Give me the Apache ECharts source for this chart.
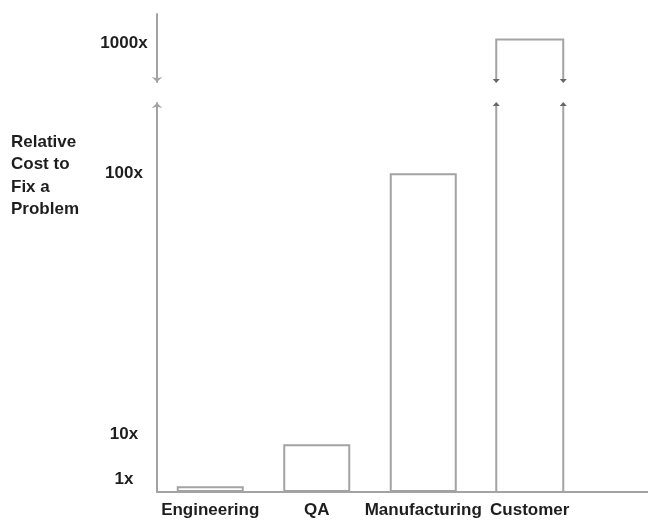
<!DOCTYPE html>
<html lang="en">
<head>
<meta charset="utf-8"/>
<title>Relative Cost to Fix a Problem</title>
<script src="https://cdn.jsdelivr.net/npm/echarts@6.0.0/dist/echarts.min.js"></script>
<style>
    html, body {
        height: 100%;
        margin: 0;
        background: #fff;
    }

    .chart {
        width: 648px;
        height: 522px;
    }
</style>
</head>
<body>
<div class="chart"></div>
<script>
    const categories = ["Engineering", "QA", "Manufacturing", "Customer"];
    // bar heights on the lower part of the axis (the drawing is not to scale)
    const lowerHeights = [1.8, 15, 100, "-"];
    // the Customer bar runs through the axis break up to the 1000x level
    const customerCost = 1000;
    const lowerTickValues = [4, 18, 100];
    const lowerTickLabels = ["1x", "10x", "100x"];
    const upperTickValues = [920];
    const upperTickLabels = ["1000x"];

    const font = "Liberation Sans";
    const textColor = "#1e1e1e";
    const lineColor = "#a3a3a3";
    const markColor = "#666";
    const barWidth = 67;

    function labelFor(values, labels) {
        return function (v) {
            const i = values.indexOf(v);
            return i < 0 ? "" : labels[i];
        };
    }

    function arrow(x, y, dir) {
        // small arrow head, tip at y, dir -1 = up, 1 = down
        return {
            type: "polygon",
            shape: {points: [[x - 3.5, y - 4 * dir], [x + 3.5, y - 4 * dir], [x, y]]},
            style: {fill: markColor}
        };
    }

    // Customer bar below the break: two open legs ending in arrows
    function lowerLegs(params, api) {
        const base = api.coord([api.value(0), 0]);
        const top = params.coordSys.y;
        const children = [];
        [base[0] - barWidth / 2, base[0] + barWidth / 2].forEach(function (x) {
            children.push({
                type: "line",
                shape: {x1: x, y1: base[1], x2: x, y2: top + 2},
                style: {stroke: lineColor, lineWidth: 2}
            });
            children.push(arrow(x, top - 1, -1));
        });
        return {type: "group", children: children};
    }

    // Customer bar above the break: bracket up to 1000x
    function upperBracket(params, api) {
        const top = api.coord([api.value(0), api.value(1)]);
        const bottom = params.coordSys.y + params.coordSys.height;
        const x0 = top[0] - barWidth / 2;
        const x1 = top[0] + barWidth / 2;
        return {
            type: "group",
            children: [
                {
                    type: "polyline",
                    shape: {points: [[x0, bottom - 2], [x0, top[1]], [x1, top[1]], [x1, bottom - 2]]},
                    style: {stroke: lineColor, lineWidth: 2, fill: null}
                },
                arrow(x0, bottom + 1, 1),
                arrow(x1, bottom + 1, 1)
            ]
        };
    }

    const labelStyle = {
        fontFamily: font,
        fontSize: 17,
        fontWeight: "bold",
        color: textColor
    };
    const axisLineStyle = {color: lineColor, width: 2};
    const customerIndex = categories.indexOf("Customer");

    const chart = echarts.init(document.querySelector(".chart"));
    const option = {
        animation: false,
        textStyle: {fontFamily: font},
        title: {
            text: "Relative\nCost to\nFix a\nProblem",
            left: 11,
            top: 131,
            padding: 0,
            textStyle: {
                fontFamily: font,
                fontSize: 17,
                fontWeight: "bold",
                color: textColor,
                lineHeight: 22.5
            }
        },
        grid: [
            {left: 157, right: 65, top: 103, bottom: 30},
            {left: 157, right: 65, top: 14, height: 68},
            {left: 157, right: 0, top: 103, bottom: 30}
        ],
        xAxis: [
            {
                gridIndex: 0,
                type: "category",
                data: categories,
                axisLine: {show: false},
                axisTick: {show: false},
                axisLabel: Object.assign({margin: 10, interval: 0}, labelStyle)
            },
            {gridIndex: 1, type: "category", data: categories, show: false},
            {
                gridIndex: 2,
                type: "value",
                min: 0,
                max: 1,
                axisLine: {show: true, onZero: false, lineStyle: axisLineStyle},
                axisTick: {show: false},
                axisLabel: {show: false},
                splitLine: {show: false}
            }
        ],
        yAxis: [
            {
                gridIndex: 0,
                type: "value",
                min: 0,
                max: 122,
                axisLine: {show: true, symbol: ["none", "arrow"], symbolSize: [8, 5], lineStyle: axisLineStyle},
                axisTick: {show: false},
                splitLine: {show: false},
                axisLabel: Object.assign({
                    customValues: lowerTickValues,
                    formatter: labelFor(lowerTickValues, lowerTickLabels),
                    align: "center",
                    margin: 33
                }, labelStyle)
            },
            {
                gridIndex: 1,
                type: "value",
                min: 0,
                max: 1600,
                axisLine: {show: true, symbol: ["arrow", "none"], symbolSize: [8, 5], lineStyle: axisLineStyle},
                axisTick: {show: false},
                splitLine: {show: false},
                axisLabel: Object.assign({
                    customValues: upperTickValues,
                    formatter: labelFor(upperTickValues, upperTickLabels),
                    align: "center",
                    margin: 33
                }, labelStyle)
            },
            {gridIndex: 2, type: "value", min: 0, max: 1, show: false}
        ],
        series: [
            {
                type: "bar",
                xAxisIndex: 0,
                yAxisIndex: 0,
                data: lowerHeights,
                barWidth: barWidth,
                itemStyle: {color: "#fff", borderColor: lineColor, borderWidth: 2}
            },
            {
                type: "custom",
                xAxisIndex: 0,
                yAxisIndex: 0,
                clip: false,
                data: [[customerIndex, customerCost]],
                renderItem: lowerLegs
            },
            {
                type: "custom",
                xAxisIndex: 1,
                yAxisIndex: 1,
                clip: false,
                data: [[customerIndex, customerCost]],
                renderItem: upperBracket
            }
        ]
    };
    chart.setOption(option);
</script>
</body>
</html>
